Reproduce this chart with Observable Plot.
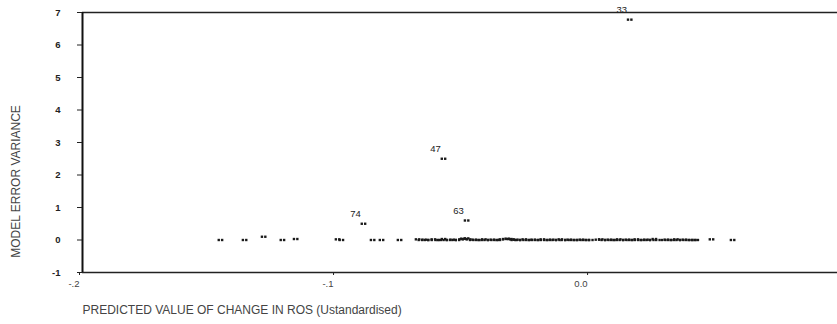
<!DOCTYPE html>
<html>
<head>
<meta charset="utf-8">
<script src="https://cdn.jsdelivr.net/npm/d3@7"></script>
<script src="https://cdn.jsdelivr.net/npm/@observablehq/plot@0.6"></script>
<style>
  html, body { margin: 0; padding: 0; background: #fff; }
  svg { display: block; }
</style>
</head>
<body>
<div id="chart"></div>
<script>
// Predicted value of change in ROS (unstandardised) and model error variance
const predicted = [
  -0.1457, -0.1362, -0.1287, -0.1213, -0.1161, -0.0996, -0.0981, -0.0894, -0.0858, -0.0823, -0.0752,
  -0.0681, -0.0670, -0.0655, -0.0646, -0.0632, -0.0619, -0.0604, -0.0596, -0.0579, -0.0572, -0.0560,
  -0.0545, -0.0537, -0.0524, -0.0510, -0.0503, -0.0488, -0.0497, -0.0480, -0.0468, -0.0458, -0.0444,
  -0.0435, -0.0420, -0.0411, -0.0397, -0.0387, -0.0372, -0.0363, -0.0351, -0.0338, -0.0328, -0.0318,
  -0.0310, -0.0304, -0.0294, -0.0284, -0.0271, -0.0261, -0.0247, -0.0237, -0.0226, -0.0212, -0.0202,
  -0.0190, -0.0176, -0.0166, -0.0153, -0.0143, -0.0129, -0.0119, -0.0107, -0.0093, -0.0084, -0.0070,
  -0.0060, -0.0046, -0.0036, -0.0023, -0.0013, 0.0001, 0.0027, 0.0040, 0.0050, 0.0064, 0.0074,
  0.0088, 0.0097, 0.0111, 0.0121, 0.0135, 0.0145, 0.0158, 0.0168, 0.0180, 0.0194, 0.0204,
  0.0218, 0.0227, 0.0241, 0.0251, 0.0265, 0.0288, 0.0298, 0.0312, 0.0322, 0.0336, 0.0345,
  0.0359, 0.0369, 0.0383, 0.0393, 0.0407, 0.0416, 0.0476, 0.0559,
  -0.0579, -0.0488, 0.0154
];
const variance = [
  0.0, 0.0, 0.1, 0.0, 0.03, 0.02, 0.0, 0.5, 0.0, 0.0, 0.0,
  0.02, 0.0, 0.01, 0.0, 0.0, 0.02, 0.0, 0.0, 0.03, 0.0, 0.0,
  0.01, 0.0, 0.0, 0.02, 0.04, 0.05, 0.03, 0.02, 0.0, 0.01, 0.0,
  0.0, 0.02, 0.0, 0.0, 0.01, 0.0, 0.0, 0.02, 0.03, 0.04, 0.03,
  0.02, 0.0, 0.01, 0.0, 0.0, 0.02, 0.0, 0.0, 0.01, 0.0, 0.0,
  0.02, 0.0, 0.0, 0.01, 0.0, 0.0, 0.02, 0.0, 0.0, 0.01, 0.0,
  0.0, 0.0, 0.01, 0.0, 0.0, 0.0, 0.01, 0.02, 0.0, 0.0, 0.01,
  0.0, 0.0, 0.02, 0.0, 0.0, 0.01, 0.0, 0.0, 0.02, 0.0, 0.0,
  0.01, 0.0, 0.0, 0.03, 0.0, 0.0, 0.01, 0.0, 0.0, 0.02, 0.0,
  0.0, 0.01, 0.0, 0.0, 0.0, 0.0, 0.02, 0.0,
  2.5, 0.6, 6.78
];
const caseLabels = [
  "", "", "", "", "", "", "", "74", "", "", "",
  "", "", "", "", "", "", "", "", "", "", "",
  "", "", "", "", "", "", "", "", "", "", "",
  "", "", "", "", "", "", "", "", "", "", "",
  "", "", "", "", "", "", "", "", "", "", "",
  "", "", "", "", "", "", "", "", "", "", "",
  "", "", "", "", "", "", "", "", "", "", "",
  "", "", "", "", "", "", "", "", "", "", "",
  "", "", "", "", "", "", "", "", "", "", "",
  "", "", "", "", "", "", "", "",
  "47", "63", "33"
];
const xTicks = [-0.2, -0.1, 0.0];
const xTickLabels = ["-.2", "-.1", "0.0"];
const yTicks = [-1, 0, 1, 2, 3, 4, 5, 6, 7];
const xTitle = "PREDICTED VALUE OF CHANGE IN ROS (Ustandardised)";
const yTitle = "MODEL ERROR VARIANCE";

const data = predicted.map((p, i) => ({x: p, y: variance[i], label: caseLabels[i]}));
const labelled = data.filter(d => d.label !== "");

const chart = Plot.plot({
  width: 837,
  height: 324,
  marginTop: 12,
  marginLeft: 82,
  marginRight: 0,
  marginBottom: 52,
  style: {fontFamily: "'Liberation Sans', Arial, sans-serif", color: "#222", background: "#fff"},
  x: {domain: [-0.2, 0.0972]},
  y: {domain: [-1, 7]},
  marks: [
    Plot.ruleY([7], {stroke: "#222", strokeWidth: 1.4}),
    Plot.ruleY([-1], {stroke: "#222", strokeWidth: 1.4}),
    Plot.ruleX([-0.2], {stroke: "#111", strokeWidth: 2}),
    Plot.axisY({ticks: yTicks, tickSize: 5, tickPadding: 17, tickFormat: d => String(d),
      fontSize: 9.5, fontWeight: "bold", label: null}),
    Plot.axisX({ticks: xTicks, tickSize: 3, tickPadding: 5,
      tickFormat: d => xTickLabels[xTicks.indexOf(Math.round(d * 10) / 10)],
      textAnchor: "end", dx: -3, fontSize: 9.5, fill: "#444", label: null}),
    Plot.dot(data, {x: "x", y: "y", symbol: "square", r: 1.35, fill: "#1a1a1a", dx: -1.7}),
    Plot.dot(data, {x: "x", y: "y", symbol: "square", r: 1.35, fill: "#1a1a1a", dx: 1.7}),
    Plot.text(labelled, {x: "x", y: "y", text: "label", dx: -8, dy: -10, fontSize: 9.5, fill: "#222"}),
    Plot.text([xTitle], {frameAnchor: "bottom-left", dy: 41, textAnchor: "start", fontSize: 12, fill: "#444"}),
    Plot.text([yTitle], {frameAnchor: "left", textAnchor: "middle", rotate: -90, dx: -66, dy: 39, fontSize: 12, fill: "#444"})
  ]
});
document.getElementById("chart").append(chart);
</script>
</body>
</html>
